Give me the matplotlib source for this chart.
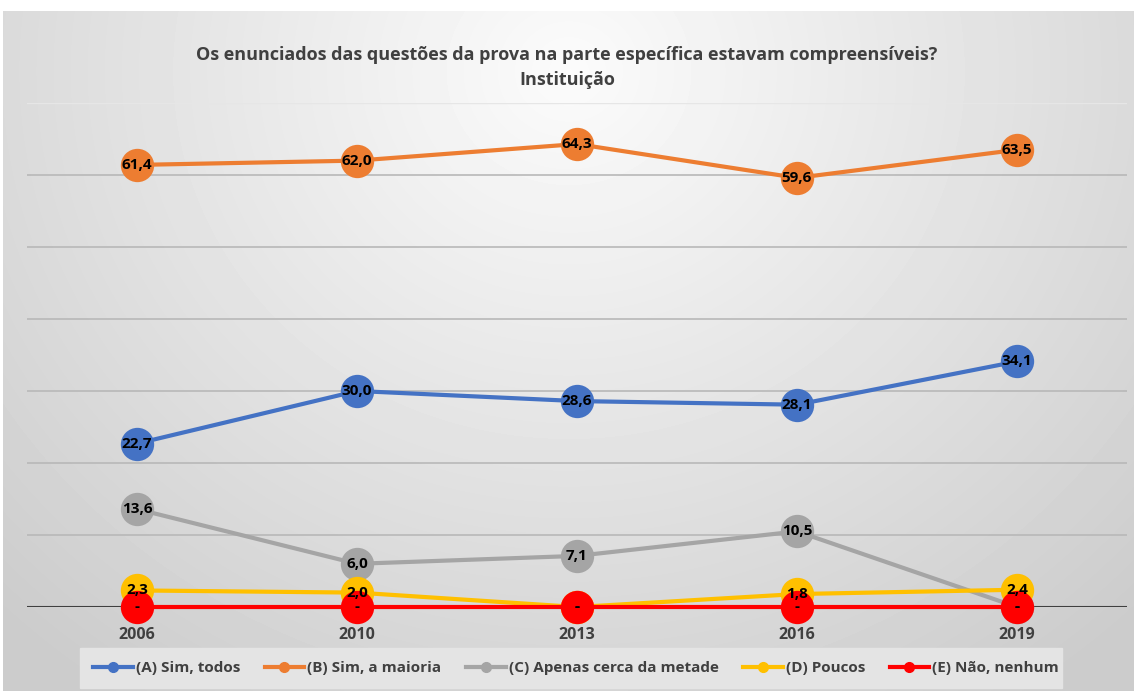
import matplotlib.pyplot as plt
import numpy as np
from matplotlib.lines import Line2D

years = ['2006', '2010', '2013', '2016', '2019']
sim_todos = [22.7, 30.0, 28.6, 28.1, 34.1]
sim_maioria = [61.4, 62.0, 64.3, 59.6, 63.5]
metade = [13.6, 6.0, 7.1, 10.5, 0.0]
poucos = [2.3, 2.0, 0.0, 1.8, 2.4]
nenhum = [0.0, 0.0, 0.0, 0.0, 0.0]

series = [
    ('(A) Sim, todos', sim_todos, '#4472c4'),
    ('(B) Sim, a maioria', sim_maioria, '#ed7d31'),
    ('(C) Apenas cerca da metade', metade, '#a5a5a5'),
    ('(D) Poucos', poucos, '#ffc000'),
    ('(E) Não, nenhum', nenhum, '#ff0000'),
]

plt.rcParams['font.family'] = ['Open Sans', 'DejaVu Sans']

W, H = 1134, 691
fig = plt.figure(figsize=(W / 100, H / 100), dpi=100)

# background: white margin + gradient chart area
bg = fig.add_axes([0, 0, 1, 1])
bg.set_xlim(0, W)
bg.set_ylim(H, 0)
bg.axis('off')
yy, xx = np.mgrid[0:H - 11, 0:W - 3]
cx, cy = (W - 3) / 2, 60
d = np.sqrt(((xx - cx) / 700.0) ** 2 + ((yy - cy) / 650.0) ** 2)
grad = np.clip(0.985 - 0.16 * d, 0.80, 1.0)
bg.imshow(grad, cmap='gray', vmin=0, vmax=1, extent=[3, W, H, 11], aspect='auto', zorder=0)

# legend background strip
bg.add_patch(plt.Rectangle((80, 648), 982, 40, color='#e4e4e4', zorder=1))

x = np.arange(len(years))
ax = fig.add_axes([27 / W, (H - 607) / H, 1100 / W, (607 - 103) / H])
ax.patch.set_alpha(0)
ax.set_xlim(-0.5, len(years) - 0.5)
ax.set_ylim(0, 70)
ax.set_yticks(np.arange(0, 61, 10))
ax.yaxis.grid(True, color='#b8b8b8', linewidth=1.2)
ax.axhline(70, color='#e6e6e6', linewidth=1.0, zorder=0)
ax.set_axisbelow(True)
for s in ax.spines.values():
    s.set_visible(False)
ax.axhline(0, color='#404040', linewidth=1.5, zorder=1)
ax.tick_params(left=False, bottom=False, labelleft=False)
ax.set_xticks(x)
ax.set_xticklabels(years, fontsize=11.5, fontweight='bold', color='#404040')
ax.tick_params(axis='x', pad=11)

handles = []
for name, vals, col in series:
    ax.plot(x, vals, color=col, linewidth=3, marker='o', markersize=24,
            markeredgewidth=0, zorder=3, clip_on=False)
    handles.append(Line2D([], [], color=col, linewidth=3, marker='o', markersize=7))

for name, vals, col in series:
    for xi, v in zip(x, vals):
        lab = '-' if v == 0 else f'{v:.1f}'.replace('.', ',')
        ax.text(xi, v, lab, ha='center', va='center', fontsize=11,
                fontweight='bold', color='black', zorder=5)

fig.text(0.5, (H - 55) / H, 'Os enunciados das questões da prova na parte específica estavam compreensíveis?',
         ha='center', va='center', fontsize=13, fontweight='bold', color='#404040')
fig.text(0.5, (H - 80) / H, 'Instituição', ha='center', va='center', fontsize=13,
         fontweight='bold', color='#404040')

fig.legend(handles, [s[0] for s in series], loc='center', bbox_to_anchor=(576 / W, (H - 668) / H),
           ncol=5, frameon=False, handlelength=2.6, columnspacing=1.6,
           handletextpad=0.2, labelcolor='#404040',
           prop={'weight': 'bold', 'size': 11})

fig.savefig('out.png', dpi=100)
